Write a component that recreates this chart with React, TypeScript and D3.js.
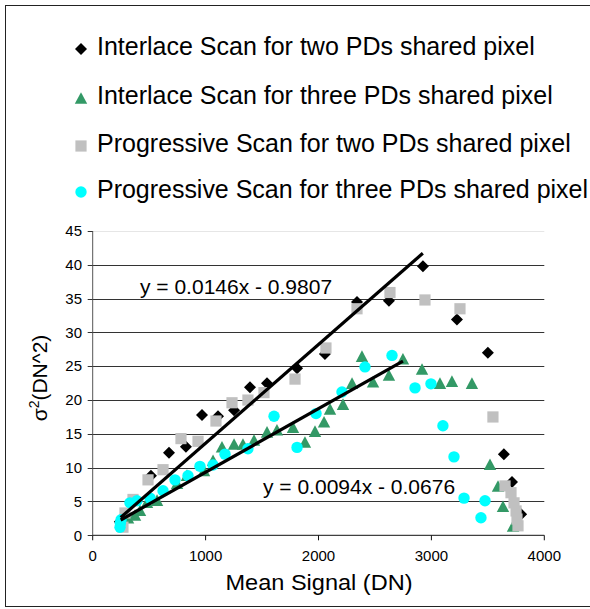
import React from "react";
import * as d3 from "d3";

const W = 590;
const H = 609;

const xTicks = [0, 1000, 2000, 3000, 4000];
const yTicks = [0, 5, 10, 15, 20, 25, 30, 35, 40, 45];

const seriesNames = [
  "Interlace Scan for two PDs shared pixel",
  "Interlace Scan for three PDs shared pixel",
  "Progressive Scan for two PDs shared pixel",
  "Progressive Scan for three PDs shared pixel",
];

const interlaceTwoX = [240, 265, 516, 676, 826, 968, 1110, 1252, 1393, 1544, 1810, 2057, 2341, 2624, 2925, 3226, 3500, 3642, 3714, 3795];
const interlaceTwoY = [2.0, 2.6, 8.8, 12.2, 13.1, 17.8, 17.6, 18.5, 21.9, 22.5, 24.7, 26.8, 34.5, 34.7, 39.8, 31.9, 27.0, 12.0, 7.9, 3.1];

const interlaceThreeX = [251, 313, 375, 419, 481, 570, 747, 835, 986, 1066, 1145, 1252, 1331, 1429, 1544, 1632, 1774, 1880, 1969, 2049, 2102, 2217, 2297, 2385, 2483, 2624, 2748, 2917, 3076, 3182, 3359, 3519, 3590, 3634, 3723];
const interlaceThreeY = [2.0, 2.6, 3.0, 3.7, 4.9, 5.2, 7.7, 8.9, 9.6, 11.1, 13.1, 13.5, 13.5, 14.1, 15.3, 15.6, 16.0, 13.8, 15.4, 16.8, 18.7, 19.4, 22.5, 26.5, 22.7, 23.7, 26.1, 24.6, 22.5, 22.8, 22.5, 10.5, 7.3, 4.3, 1.4];

const progressiveTwoX = [268, 286, 357, 490, 623, 782, 933, 1092, 1234, 1375, 1517, 1792, 2066, 2341, 2633, 2943, 3253, 3545, 3652, 3705, 3732, 3750, 3758, 3767];
const progressiveTwoY = [1.2, 3.3, 5.3, 8.2, 9.7, 14.3, 13.9, 16.9, 19.6, 20.0, 21.1, 23.1, 27.7, 33.5, 35.9, 34.8, 33.5, 17.5, 7.3, 6.3, 4.8, 3.6, 2.4, 1.4];

const progressiveThreeX = [242, 245, 251, 330, 392, 508, 623, 729, 844, 950, 1066, 1172, 1375, 1606, 1810, 1978, 2208, 2412, 2651, 2855, 2996, 3102, 3200, 3289, 3439, 3475];
const progressiveThreeY = [1.2, 1.8, 2.3, 4.8, 5.1, 5.5, 6.6, 8.2, 8.8, 10.2, 10.4, 12.0, 12.8, 17.6, 13.0, 18.0, 21.2, 24.9, 26.6, 21.8, 22.4, 16.2, 11.6, 5.5, 2.6, 5.1];

const trendSlopes = [0.0146, 0.0094];
const trendIntercepts = [-0.9807, -0.0676];
const trendXStart = [248, 248];
const trendXEnd = [2924, 2748];
const trendLabels = ["y = 0.0146x - 0.9807", "y = 0.0094x - 0.0676"];

const FONT = "'Liberation Sans', Arial, sans-serif";

type Shape = "diamond" | "triangle" | "square" | "circle";

function Marker({ shape, x, y, fill }: { shape: Shape; x: number; y: number; fill: string }) {
  if (shape === "diamond") {
    const s = 6;
    return <path d={`M${x},${y - s}L${x + s},${y}L${x},${y + s}L${x - s},${y}Z`} fill={fill} />;
  }
  if (shape === "triangle") {
    const hw = 6.2, hh = 5.8;
    return <path d={`M${x},${y - hh}L${x + hw},${y + hh}L${x - hw},${y + hh}Z`} fill={fill} />;
  }
  if (shape === "square") {
    const s = 5.6;
    return <rect x={x - s} y={y - s} width={2 * s} height={2 * s} fill={fill} />;
  }
  return <circle cx={x} cy={y} r={5.7} fill={fill} />;
}

export default function App() {
  const x = d3.scaleLinear().domain([0, 4000]).range([92.7, 544.3]);
  const y = d3.scaleLinear().domain([0, 45]).range([535.3, 231]);

  const series = [
    { xs: interlaceTwoX, ys: interlaceTwoY, shape: "diamond" as Shape, fill: "#000000" },
    { xs: interlaceThreeX, ys: interlaceThreeY, shape: "triangle" as Shape, fill: "#339966" },
    { xs: progressiveTwoX, ys: progressiveTwoY, shape: "square" as Shape, fill: "#C0C0C0" },
    { xs: progressiveThreeX, ys: progressiveThreeY, shape: "circle" as Shape, fill: "#00FFFF" },
  ];

  const legendY = [49, 98, 146, 192];
  const legendBase = [54.5, 103.5, 151.5, 197.5];
  const trendLabelPos = [
    [140, 294],
    [263, 494],
  ];

  return (
    <svg
      width={W}
      height={H}
      style={{ position: "absolute", left: 0, top: 0, background: "#fff" }}
      fontFamily={FONT}
    >
      <rect x={0} y={0} width={W} height={H} fill="#fff" />
      <rect x={5.5} y={5.5} width={600} height={601} fill="none" stroke="#222" strokeWidth={1} />

      {/* legend */}
      {seriesNames.map((name, i) => (
        <g key={name}>
          <Marker shape={series[i].shape} x={81} y={legendY[i]} fill={series[i].fill} />
          <text x={97} y={legendBase[i]} fontSize={25} fill="#000" textLength={i === 3 ? 491 : undefined}>
            {name}
          </text>
        </g>
      ))}

      {/* gridlines */}
      {yTicks.filter((t) => t > 0).map((t) => (
        <line
          key={t}
          x1={x(0)}
          x2={x(4000)}
          y1={Math.round(y(t)) + 0.5}
          y2={Math.round(y(t)) + 0.5}
          stroke={t === 45 ? "#e6e6e6" : "#333"}
          strokeWidth={1}
        />
      ))}

      {/* axes */}
      <line x1={x(0)} x2={x(0)} y1={y(45)} y2={y(0)} stroke="#555" strokeWidth={1} />
      <line x1={x(0)} x2={x(4000)} y1={y(0)} y2={y(0)} stroke="#111" strokeWidth={1} />
      {yTicks.map((t) => (
        <g key={t}>
          <line x1={x(0) - 5} x2={x(0)} y1={Math.round(y(t)) + 0.5} y2={Math.round(y(t)) + 0.5} stroke="#333" />
          <text x={82} y={y(t)} dy="0.35em" textAnchor="end" fontSize={15} fill="#000">
            {t}
          </text>
        </g>
      ))}
      {xTicks.map((t) => (
        <g key={t}>
          <line x1={x(t)} x2={x(t)} y1={y(0)} y2={y(0) + 5} stroke="#111" />
          <text x={x(t)} y={561} textAnchor="middle" fontSize={15} fill="#000">
            {t}
          </text>
        </g>
      ))}

      {/* axis titles */}
      <text x={319} y={589.5} textAnchor="middle" fontSize={22} fill="#000" textLength={187} lengthAdjust="spacingAndGlyphs">
        Mean Signal (DN)
      </text>
      <text transform="translate(47,378) rotate(-90)" textAnchor="middle" fontSize={21} fill="#000">
        σ<tspan fontSize={14} dy={-8}>2</tspan>
        <tspan dy={8}>(DN^2)</tspan>
      </text>

      {/* points */}
      {series.map((s, si) => (
        <g key={si}>
          {s.xs.map((v, i) => (
            <Marker key={i} shape={s.shape} x={x(v)} y={y(s.ys[i])} fill={s.fill} />
          ))}
        </g>
      ))}

      {/* trendlines */}
      {trendSlopes.map((m, i) => {
        const x0 = trendXStart[i];
        const x1 = trendXEnd[i];
        const b = trendIntercepts[i];
        return (
          <line
            key={i}
            x1={x(x0)}
            y1={y(m * x0 + b)}
            x2={x(x1)}
            y2={y(m * x1 + b)}
            stroke="#000"
            strokeWidth={3.2}
          />
        );
      })}
      {trendLabels.map((lab, i) => (
        <text key={lab} x={trendLabelPos[i][0]} y={trendLabelPos[i][1]} fontSize={21} fill="#000">
          {lab}
        </text>
      ))}
    </svg>
  );
}
